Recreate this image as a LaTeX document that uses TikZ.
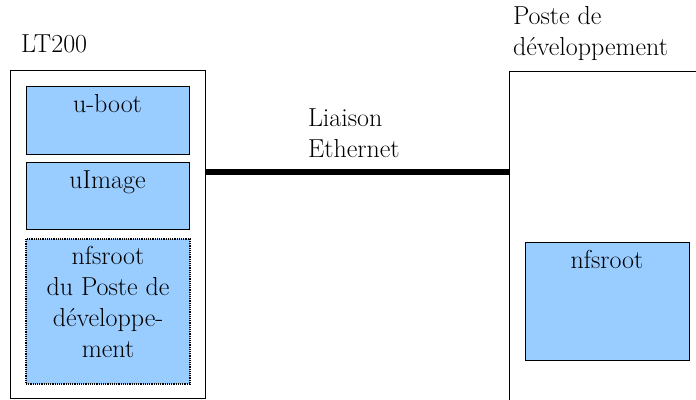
\documentclass[tikz,border=0pt]{standalone}
\usepackage{fontspec}
\definecolor{partfill}{HTML}{99CCFF}
\tikzset{
  x=1pt, y=-1pt,
  every node/.style={inner sep=0pt, outer sep=0pt, font=\fontsize{26}{31}\selectfont},
  frame/.style={draw, line width=1pt, fill=white, anchor=north west},
  part/.style={draw, line width=1pt, fill=partfill, anchor=north west},
  sharedpart/.style={part, line width=1.3pt, dash pattern=on 1.2pt off 1pt},
  caption/.style={align=left, anchor=base west},
  inner/.style={align=center, anchor=base},
  link/.style={line width=6pt}
}
\begin{document}
\begin{tikzpicture}
\useasboundingbox (0,0) rectangle (696,399);
\clip (0,0) rectangle (696,399);

% target board and its partitions
\node[frame, minimum width=195pt, minimum height=328pt] (lt200) at (10,70) {};
\node[part, minimum width=163pt, minimum height=68pt] (uboot) at (26,86) {};
\node[part, minimum width=163pt, minimum height=67pt] (uimage) at (26,162) {};
\node[sharedpart, minimum width=164pt, minimum height=145pt] (nfsl) at (26,239) {};

% development host
\node[frame, minimum width=200pt, minimum height=345pt] (dev) at (509,71) {};
\node[part, minimum width=164pt, minimum height=118pt] (nfsr) at (525,242) {};

% Ethernet link
\coordinate (eth) at (0,171.5);
\draw[link] (lt200.east |- eth) -- (dev.west |- eth);

% labels
\node[caption] (lt200lbl) at (21,52) {LT200};
\node[caption] (devlbl) at (513,55) {Poste de\\développement};
\node[caption] (ethlbl) at (308,157) {Liaison\\Ethernet};
\node[inner] (ubootlbl) at ([yshift=-26pt]uboot.north) {u-boot};
\node[inner] (uimagelbl) at ([yshift=-26pt]uimage.north) {uImage};
\node[inner] (nfsllbl) at ([yshift=-118pt]nfsl.north) {nfsroot\\du Poste de\\développe-\\ment};
\node[inner] (nfsrlbl) at ([yshift=-26pt]nfsr.north) {nfsroot};
\end{tikzpicture}
\end{document}
